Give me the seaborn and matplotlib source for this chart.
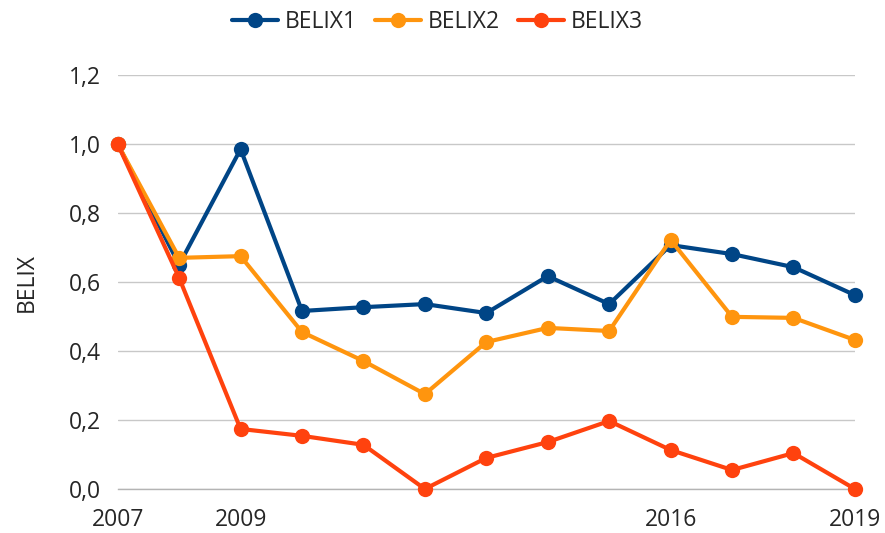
import matplotlib
matplotlib.use("Agg")
import matplotlib.pyplot as plt
import seaborn as sns
import pandas as pd
from matplotlib.ticker import FuncFormatter, FixedLocator

years = list(range(2007, 2020))
belix1 = [1.0, 0.65, 0.985, 0.516, 0.527, 0.536, 0.51, 0.617, 0.536, 0.707, 0.681, 0.643, 0.562]
belix2 = [1.0, 0.67, 0.675, 0.455, 0.371, 0.275, 0.426, 0.467, 0.458, 0.722, 0.499, 0.496, 0.432]
belix3 = [1.0, 0.612, 0.174, 0.154, 0.128, 0.0, 0.09, 0.136, 0.197, 0.113, 0.055, 0.104, 0.0]
series_names = ["BELIX1", "BELIX2", "BELIX3"]
colors = ["#004586", "#ff950e", "#ff420e"]
x_tick_labels = {2007: "2007", 2009: "2009", 2016: "2016", 2019: "2019"}

df = pd.DataFrame({
    "year": years * 3,
    "value": belix1 + belix2 + belix3,
    "series": [series_names[0]] * 13 + [series_names[1]] * 13 + [series_names[2]] * 13,
})

sns.set_style("white")
plt.rcParams["font.family"] = ["Open Sans", "DejaVu Sans"]
FS = 16.5

fig = plt.figure(figsize=(8.85, 5.33), dpi=100)
ax = fig.add_axes([0.133, 0.0826, 0.833, 0.7766])

sns.lineplot(data=df, x="year", y="value", hue="series", palette=colors,
             marker="o", markersize=11, markeredgewidth=0, linewidth=3,
             ax=ax, clip_on=False, zorder=3)

ax.set_xlim(2007, 2019)
ax.set_ylim(0, 1.2)
ax.set_yticks([0, 0.2, 0.4, 0.6, 0.8, 1.0, 1.2])
ax.yaxis.set_major_formatter(FuncFormatter(lambda v, p: f"{v:.1f}".replace(".", ",")))
ax.xaxis.set_major_locator(FixedLocator(years))
ax.set_xticklabels([x_tick_labels.get(y, "") for y in years])
ax.grid(axis="y", color="#c8c8c8", linewidth=1)
ax.set_axisbelow(True)
for s in ["top", "right", "left"]:
    ax.spines[s].set_visible(False)
ax.spines["bottom"].set_color("#b4b4b4")
ax.spines["bottom"].set_linewidth(1)
ax.tick_params(axis="x", which="major", direction="out", length=10, width=1,
               color="#b4b4b4", labelsize=FS, pad=4)
ax.tick_params(axis="y", length=0, labelsize=FS, pad=12)
ax.set_xlabel("")
ax.set_ylabel("BELIX", fontsize=FS, labelpad=22)

leg = ax.legend(loc="center", bbox_to_anchor=(0.494, 0.959), bbox_transform=fig.transFigure,
                ncol=3, frameon=False, fontsize=FS, handlelength=2.0,
                columnspacing=0.8, handletextpad=0.3)

fig.savefig("out.png", dpi=100)
